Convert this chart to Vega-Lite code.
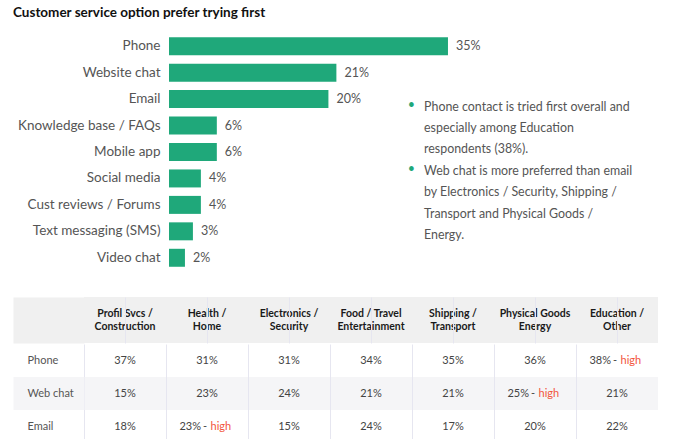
{
  "$schema": "https://vega.github.io/schema/vega-lite/v6.json",
  "padding": {"left": -10, "top": 5, "right": 5, "bottom": 0},
  "background": "white",
  "title": {"text": "Customer service option prefer trying first", "anchor": "start", "fontSize": 13.5, "fontWeight": "bold", "color": "#111111", "font": "Lato", "offset": 14, "dx": 23},
  "config": {"view": {"stroke": null}, "font": "Lato", "axis": {"labelFont": "Lato"}},
  "datasets": {
    "options": [
      {"option": "Phone", "pct": 0.35},
      {"option": "Website chat", "pct": 0.21},
      {"option": "Email", "pct": 0.20},
      {"option": "Knowledge base / FAQs", "pct": 0.06},
      {"option": "Mobile app", "pct": 0.06},
      {"option": "Social media", "pct": 0.04},
      {"option": "Cust reviews / Forums", "pct": 0.04},
      {"option": "Text messaging (SMS)", "pct": 0.03},
      {"option": "Video chat", "pct": 0.02}
    ],
    "segs": [
      {"seg": "Profil Svcs / Construction", "l1": "Profil Svcs /", "l2": "Construction"},
      {"seg": "Health / Home", "l1": "Health /", "l2": "Home"},
      {"seg": "Electronics / Security", "l1": "Electronics /", "l2": "Security"},
      {"seg": "Food / Travel Entertainment", "l1": "Food / Travel", "l2": "Entertainment"},
      {"seg": "Shipping / Transport", "l1": "Shipping /", "l2": "Transport"},
      {"seg": "Physical Goods Energy", "l1": "Physical Goods", "l2": "Energy"},
      {"seg": "Education / Other", "l1": "Education /", "l2": "Other"}
    ],
    "cells": [
      {"seg": "Profil Svcs / Construction", "row": "Phone", "pct": 0.37, "high": false},
      {"seg": "Profil Svcs / Construction", "row": "Web chat", "pct": 0.15, "high": false},
      {"seg": "Profil Svcs / Construction", "row": "Email", "pct": 0.18, "high": false},
      {"seg": "Health / Home", "row": "Phone", "pct": 0.31, "high": false},
      {"seg": "Health / Home", "row": "Web chat", "pct": 0.23, "high": false},
      {"seg": "Health / Home", "row": "Email", "pct": 0.23, "high": true},
      {"seg": "Electronics / Security", "row": "Phone", "pct": 0.31, "high": false},
      {"seg": "Electronics / Security", "row": "Web chat", "pct": 0.24, "high": false},
      {"seg": "Electronics / Security", "row": "Email", "pct": 0.15, "high": false},
      {"seg": "Food / Travel Entertainment", "row": "Phone", "pct": 0.34, "high": false},
      {"seg": "Food / Travel Entertainment", "row": "Web chat", "pct": 0.21, "high": false},
      {"seg": "Food / Travel Entertainment", "row": "Email", "pct": 0.24, "high": false},
      {"seg": "Shipping / Transport", "row": "Phone", "pct": 0.35, "high": false},
      {"seg": "Shipping / Transport", "row": "Web chat", "pct": 0.21, "high": false},
      {"seg": "Shipping / Transport", "row": "Email", "pct": 0.17, "high": false},
      {"seg": "Physical Goods Energy", "row": "Phone", "pct": 0.36, "high": false},
      {"seg": "Physical Goods Energy", "row": "Web chat", "pct": 0.25, "high": true},
      {"seg": "Physical Goods Energy", "row": "Email", "pct": 0.20, "high": false},
      {"seg": "Education / Other", "row": "Phone", "pct": 0.38, "high": true},
      {"seg": "Education / Other", "row": "Web chat", "pct": 0.21, "high": false},
      {"seg": "Education / Other", "row": "Email", "pct": 0.22, "high": false}
    ]
  },
  "spacing": 26,
  "vconcat": [
    {
      "width": 574,
      "height": 238,
      "data": {"name": "options"},
      "layer": [
        {
          "mark": {"type": "bar", "color": "#1fa87a"},
          "encoding": {
            "y": {"field": "option", "type": "nominal", "sort": null,
              "scale": {"paddingInner": 0.32, "paddingOuter": 0.16},
              "axis": {"title": null, "ticks": false, "domain": false, "labelPadding": -76, "labelFontSize": 13.5, "labelColor": "#555555", "minExtent": 71, "maxExtent": 71}},
            "x": {"field": "pct", "type": "quantitative", "scale": {"domain": [-0.10665, 0.6135], "nice": false, "zero": false}, "axis": null}
          }
        },
        {
          "mark": {"type": "text", "align": "left", "dx": 8, "fontSize": 12.5, "color": "#555555"},
          "encoding": {
            "y": {"field": "option", "type": "nominal", "sort": null},
            "x": {"field": "pct", "type": "quantitative", "axis": null},
            "text": {"field": "pct", "type": "quantitative", "format": ".0%"}
          }
        },
        {
          "data": {"values": [{"b": "•"}]},
          "mark": {"type": "text", "align": "center", "baseline": "alphabetic", "fontSize": 12.5, "color": "#1fa87a", "dy": 10},
          "encoding": {
            "x": {"datum": 0.304, "type": "quantitative", "axis": null},
            "y": {"datum": "Email", "type": "nominal"},
            "text": {"field": "b"}
          }
        },
        {
          "data": {"values": [{"b": "•"}]},
          "mark": {"type": "text", "align": "center", "baseline": "alphabetic", "fontSize": 12.5, "color": "#1fa87a", "dy": 74.2},
          "encoding": {
            "x": {"datum": 0.304, "type": "quantitative", "axis": null},
            "y": {"datum": "Email", "type": "nominal"},
            "text": {"field": "b"}
          }
        },
        {
          "data": {"values": [{"t": ["Phone contact is tried first overall and", "especially among Education", "respondents (38%).", "Web chat is more preferred than email", "by Electronics / Security, Shipping /", "Transport and Physical Goods /", "Energy."]}]},
          "mark": {"type": "text", "align": "left", "baseline": "alphabetic", "fontSize": 12.4, "lineHeight": 21.4, "color": "#555555", "dy": 11.5},
          "encoding": {
            "x": {"datum": 0.32, "type": "quantitative", "axis": null},
            "y": {"datum": "Email", "type": "nominal"},
            "text": {"field": "t"}
          }
        }
      ]
    },
    {
      "spacing": 0,
      "resolve": {"scale": {"x": "independent", "y": "independent"}},
      "vconcat": [
        {
          "width": 574,
          "height": 46,
          "view": {"fill": "#f0f0f0", "stroke": null},
          "data": {"name": "segs"},
          "encoding": {
            "x": {"field": "seg", "type": "nominal", "sort": null,
              "scale": {"paddingInner": 0, "paddingOuter": 0},
              "axis": {"title": null, "labels": false, "ticks": false, "domain": false, "grid": true, "gridColor": "#e6e6f0", "bandPosition": 0, "zindex": 1}},
            "y": {"datum": "header", "type": "nominal",
              "scale": {"paddingInner": 0, "paddingOuter": 0},
              "axis": {"title": null, "labels": false, "domain": false, "ticks": true, "tickSize": 71, "tickWidth": 46, "tickColor": "#f0f0f0", "grid": false}}
          },
          "layer": [
            {"mark": {"type": "text", "fontWeight": "bold", "fontSize": 10.5, "color": "#1a1a1a", "dy": -6.5}, "encoding": {"text": {"field": "l1"}}},
            {"mark": {"type": "text", "fontWeight": "bold", "fontSize": 10.5, "color": "#1a1a1a", "dy": 6.5}, "encoding": {"text": {"field": "l2"}}}
          ]
        },
        {
          "width": 574,
          "height": 99,
          "data": {"name": "cells"},
          "encoding": {
            "x": {"field": "seg", "type": "nominal",
              "sort": ["Profil Svcs / Construction", "Health / Home", "Electronics / Security", "Food / Travel Entertainment", "Shipping / Transport", "Physical Goods Energy", "Education / Other"],
              "scale": {"paddingInner": 0, "paddingOuter": 0},
              "axis": {"title": null, "labels": false, "ticks": false, "domain": false, "grid": true, "gridColor": "#e6e6f0", "bandPosition": 0, "zindex": 1}},
            "y": {"field": "row", "type": "nominal", "sort": ["Phone", "Web chat", "Email"],
              "scale": {"paddingInner": 0, "paddingOuter": 0},
              "axis": {"title": null, "domain": false, "ticks": true, "tickSize": 71, "tickWidth": 33,
                "tickColor": {"condition": {"test": "datum.value === 'Web chat'", "value": "#f5f5f7"}, "value": "transparent"},
                "labelAlign": "left", "labelPadding": -14, "labelFontSize": 11, "labelColor": "#555555", "grid": false, "minExtent": 71, "maxExtent": 71}}
          },
          "layer": [
            {"transform": [{"filter": "datum.row === 'Web chat'"}], "mark": {"type": "rect", "color": "#f5f5f7"}},
            {"transform": [{"filter": "!datum.high"}], "mark": {"type": "text", "fontSize": 11, "color": "#444444"}, "encoding": {"text": {"field": "pct", "type": "quantitative", "format": ".0%"}}},
            {"transform": [{"filter": "datum.high"}], "mark": {"type": "text", "align": "right", "dx": -6, "fontSize": 11, "color": "#444444"}, "encoding": {"text": {"field": "pct", "type": "quantitative", "format": ".0%"}}},
            {"transform": [{"filter": "datum.high"}], "mark": {"type": "text", "align": "center", "dx": -2, "fontSize": 11, "color": "#444444"}, "encoding": {"text": {"value": "-"}}},
            {"transform": [{"filter": "datum.high"}], "mark": {"type": "text", "align": "left", "dx": 3.5, "fontSize": 11, "color": "#f2553d"}, "encoding": {"text": {"value": "high"}}}
          ]
        }
      ]
    }
  ]
}
